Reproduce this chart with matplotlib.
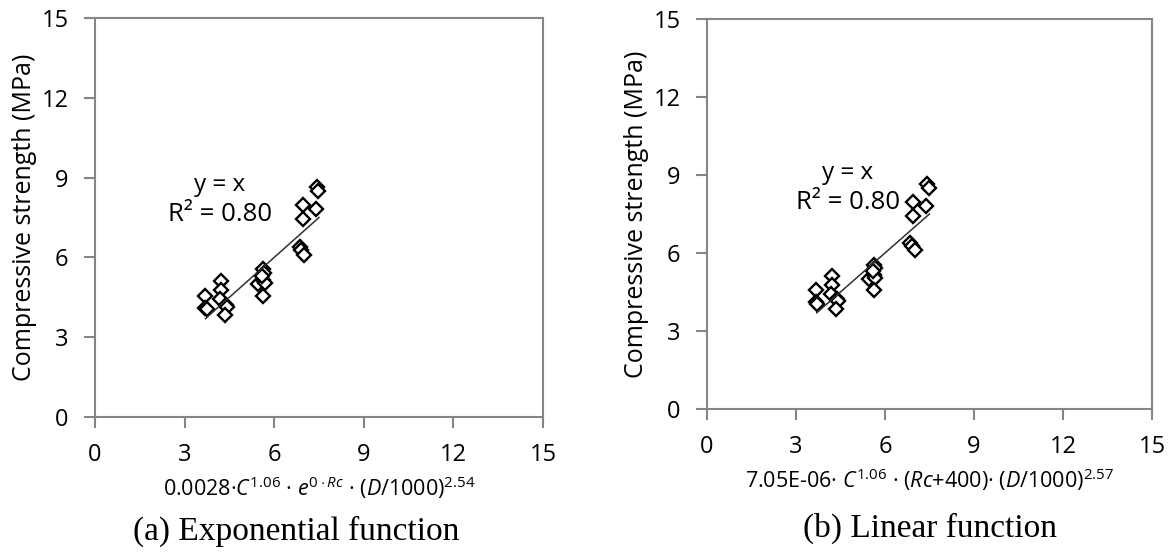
import numpy as np
import matplotlib
matplotlib.use("Agg")
import matplotlib.pyplot as plt

plt.rcParams['font.family'] = ['Open Sans', 'DejaVu Sans']
plt.rcParams['mathtext.fontset'] = 'custom'
plt.rcParams['mathtext.rm'] = 'Open Sans'
plt.rcParams['mathtext.it'] = 'Open Sans:italic'

# predicted values (x) and measured compressive strength (y)
pred_exp = [3.70, 3.70, 3.74, 4.21, 4.21, 4.18, 4.38, 4.43, 4.37, 5.63, 5.66, 5.46,
            5.63, 5.68, 5.60, 5.63, 6.95, 6.95, 7.39, 7.42, 7.47, 6.86, 6.90, 7.00]
pred_lin = [3.68, 3.68, 3.72, 4.20, 4.20, 4.17, 4.37, 4.42, 4.36, 5.62, 5.65, 5.45,
            5.62, 5.67, 5.59, 5.64, 6.95, 6.95, 7.40, 7.43, 7.48, 6.86, 6.90, 7.00]
measured = [4.56, 4.10, 4.05, 5.13, 4.76, 4.42, 4.22, 4.15, 3.83, 5.55, 5.42, 5.00,
            5.15, 5.05, 5.30, 4.56, 7.98, 7.43, 7.81, 8.65, 8.50, 6.38, 6.28, 6.10]
fit_x = [3.7, 7.5]   # y = x trend line
ticks = [0, 3, 6, 9, 12, 15]

xlab_a = '0.0028·$C^{1.06}$ · $e^{0\\cdot Rc}$ · ($D$/1000)$^{2.54}$'
xlab_b = '7.05E-06· $C^{1.06}$ · ($Rc$+400)· ($D$/1000)$^{2.57}$'

fig = plt.figure(figsize=(11.74, 5.56), dpi=100)
ax1 = fig.add_axes([0.0809, 0.250, 0.3816, 0.7176])
ax2 = fig.add_axes([0.6022, 0.2644, 0.3790, 0.7014])

def style(ax, xs, xlab, txy):
    ax.plot(xs, measured, 'D', ms=7, mfc='white', mec='black', mew=1.7, ls='none')
    ax.plot(fit_x, fit_x, color='#303030', lw=1.1)
    ax.set_xlim(0, 15)
    ax.set_ylim(0, 15)
    ax.set_xticks(ticks)
    ax.set_yticks(ticks)
    for s in ax.spines.values():
        s.set_color('#868686')
        s.set_linewidth(1.5)
    ax.tick_params(direction='out', length=8, width=1.5, color='#868686',
                   labelsize=17, pad=11)
    ax.set_ylabel('Compressive strength (MPa)', fontsize=18, labelpad=3)
    ax.set_xlabel(xlab, fontsize=15.5, labelpad=5)
    ax.text(txy[0], txy[1], 'y = x', fontsize=17.5, ha='center', va='center')
    ax.text(txy[0], txy[1] - 1.12, 'R² = 0.80', fontsize=18.5, ha='center', va='center')

style(ax1, pred_exp, xlab_a, (4.18, 8.72))
style(ax2, pred_lin, xlab_b, (4.75, 9.08))

fig.text(0.252, 0.045, '(a) Exponential function', fontsize=24,
         family='Liberation Serif', ha='center', va='center')
fig.text(0.792, 0.050, '(b) Linear function', fontsize=24,
         family='Liberation Serif', ha='center', va='center')

fig.savefig('out.png', dpi=100)
